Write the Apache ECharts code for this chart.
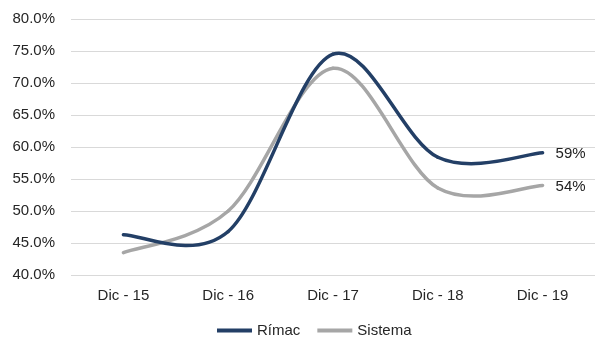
<!DOCTYPE html>
<html>
<head>
<meta charset="utf-8">
<script src="https://cdn.jsdelivr.net/npm/echarts@6/dist/echarts.min.js"></script>
<style>
  html, body { margin: 0; padding: 0; background: #fff; }
  #chart { width: 595px; height: 337px; }
</style>
</head>
<body>
<div id="chart"></div>
<script>
// categorías y valores (%)
const categories = ['Dic - 15', 'Dic - 16', 'Dic - 17', 'Dic - 18', 'Dic - 19'];
const rimac = [46.3, 46.8, 74.5, 58.4, 59.1];
const sistema = [43.5, 50.0, 72.3, 53.6, 54.0];
const seriesNames = ['Rímac', 'Sistema'];
const colors = ['#233f66', '#a6a6a6'];

const font = 'Liberation Sans, Arial, sans-serif';
const chart = echarts.init(document.getElementById('chart'));

// curva tipo Excel (Catmull-Rom) entre el punto i y el i+1
function smoothSeries(name, values, color, z) {
  return {
    name: name,
    type: 'custom',
    data: values,
    z: z,
    clip: false,
    itemStyle: { color: color },
    renderItem: function (params, api) {
      const i = params.dataIndex;
      const n = values.length;
      const pt = k => api.coord([Math.max(0, Math.min(n - 1, k)), values[Math.max(0, Math.min(n - 1, k))]]);
      const children = [];
      if (i < n - 1) {
        const p0 = pt(i - 1), p1 = pt(i), p2 = pt(i + 1), p3 = pt(i + 2);
        const c1 = [p1[0] + (p2[0] - p0[0]) / 6, p1[1] + (p2[1] - p0[1]) / 6];
        const c2 = [p2[0] - (p3[0] - p1[0]) / 6, p2[1] - (p3[1] - p1[1]) / 6];
        children.push({
          type: 'bezierCurve',
          shape: { x1: p1[0], y1: p1[1], x2: p2[0], y2: p2[1], cpx1: c1[0], cpy1: c1[1], cpx2: c2[0], cpy2: c2[1] },
          style: { stroke: color, lineWidth: 3.5, fill: null, lineCap: 'round' }
        });
      } else {
        const p = pt(i);
        children.push({
          type: 'text',
          style: {
            x: p[0] + 13, y: p[1] + 1, text: Math.round(values[i]) + '%',
            fill: '#222', font: '15px ' + font, verticalAlign: 'middle', align: 'left'
          }
        });
      }
      return { type: 'group', children: children };
    }
  };
}

chart.setOption({
  animation: false,
  grid: { left: 71, top: 19, width: 537, height: 256 },
  legend: {
    top: 318,
    left: 212,
    itemWidth: 35,
    itemHeight: 4,
    itemGap: 17,
    icon: 'rect',
    textStyle: { color: '#262626', fontSize: 15, fontFamily: font },
    data: seriesNames
  },
  xAxis: {
    type: 'category',
    data: categories,
    axisLine: { show: false },
    axisTick: { show: false },
    axisLabel: { color: '#262626', fontSize: 15, fontFamily: font, margin: 13 }
  },
  yAxis: {
    type: 'value',
    min: 40,
    max: 80,
    interval: 5,
    axisLine: { show: false },
    axisTick: { show: false },
    splitLine: { lineStyle: { color: '#d9d9d9', width: 1 } },
    axisLabel: {
      color: '#262626', fontSize: 15, fontFamily: font, margin: 16,
      formatter: v => v.toFixed(1) + '%'
    }
  },
  series: [
    smoothSeries(seriesNames[0], rimac, colors[0], 3),
    smoothSeries(seriesNames[1], sistema, colors[1], 2)
  ]
});
</script>
</body>
</html>
